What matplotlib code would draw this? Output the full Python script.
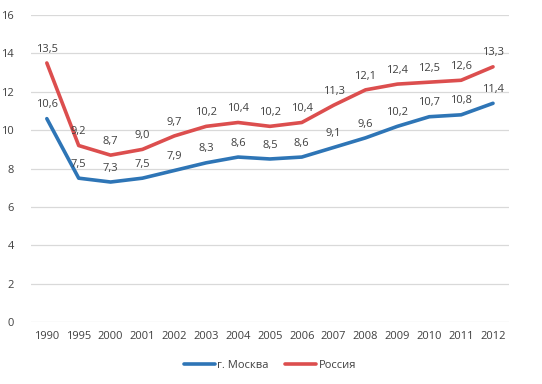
import matplotlib.pyplot as plt

years = ['1990', '1995', '2000', '2001', '2002', '2003', '2004', '2005',
         '2006', '2007', '2008', '2009', '2010', '2011', '2012']
moscow = [10.6, 7.5, 7.3, 7.5, 7.9, 8.3, 8.6, 8.5, 8.6, 9.1, 9.6, 10.2, 10.7, 10.8, 11.4]
russia = [13.5, 9.2, 8.7, 9.0, 9.7, 10.2, 10.4, 10.2, 10.4, 11.3, 12.1, 12.4, 12.5, 12.6, 13.3]

plt.rcParams['font.family'] = ['Open Sans', 'DejaVu Sans']
txt = '#404040'

fig = plt.figure(figsize=(5.42, 3.84), dpi=100)
ax = fig.add_axes([0.057, 0.161, 0.882, 0.8])

x = range(len(years))
ax.plot(x, moscow, color='#2E75B6', lw=2.6, label='г. Москва', solid_capstyle='round')
ax.plot(x, russia, color='#DC4E4E', lw=2.6, label='Россия', solid_capstyle='round')

for xi, v in zip(x, moscow):
    ax.annotate(f'{v:.1f}'.replace('.', ','), (xi, v), xytext=(0, 6), textcoords='offset points',
                ha='center', va='bottom', fontsize=8, color=txt)
for xi, v in zip(x, russia):
    ax.annotate(f'{v:.1f}'.replace('.', ','), (xi, v), xytext=(0, 6), textcoords='offset points',
                ha='center', va='bottom', fontsize=8, color=txt)

ax.set_xlim(-0.5, len(years) - 0.5)
ax.set_ylim(0, 16)
ax.set_yticks(range(0, 17, 2))
ax.set_xticks(list(x))
ax.set_xticklabels(years)
ax.grid(axis='y', color='#D9D9D9', lw=0.9)
ax.set_axisbelow(True)
for s in ax.spines.values():
    s.set_visible(False)
ax.tick_params(length=0, labelsize=8, colors=txt, pad=6)
ax.tick_params(axis='y', pad=12)

ax.legend(loc='upper center', bbox_to_anchor=(0.5, -0.09), ncol=2, frameon=False,
          fontsize=8, labelcolor=txt, handlelength=2.8, handletextpad=0.2, columnspacing=1.5)

plt.savefig('out.png', dpi=100)
